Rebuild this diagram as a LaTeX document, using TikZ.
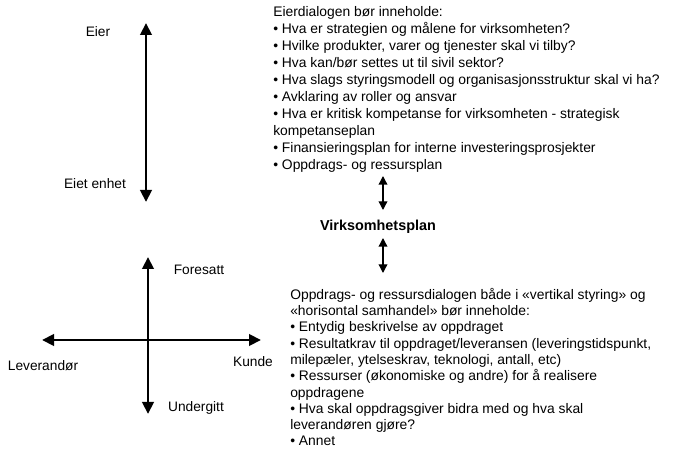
\documentclass[tikz,border=0pt]{standalone}
\usepackage{fontspec}
\setmainfont{Liberation Sans}
\usetikzlibrary{arrows.meta}
\tikzset{
  bigarrow/.style={line width=2.2pt, {Triangle[length=9pt,width=8.5pt]}-{Triangle[length=9pt,width=8.5pt]}},
  smallarrow/.style={line width=1pt, {Triangle[length=6.5pt,width=6.5pt]}-{Triangle[length=6.5pt,width=6.5pt]}},
  axislabel/.style={inner sep=0pt, font=\fontsize{10.3pt}{12pt}\selectfont},
  listtext/.style={anchor=north west, inner sep=0pt, align=left},
}
\begin{document}
\begin{tikzpicture}[x=0.75pt, y=-0.75pt]%
\useasboundingbox (0,0) rectangle (679,463);%
% eier-aksen
\coordinate (eiertop) at (146,23);%
\coordinate (eierbot) at (146,202);%
\draw[bigarrow] (eiertop) -- (eierbot);%
\node[axislabel] (eier) at (98,32) {Eier};%
\node[axislabel] (eietenhet) at (95,184) {Eiet enhet};%
% kryss
\coordinate (foresatttop) at (148,257);%
\coordinate (undergittbot) at (148,414);%
\coordinate (levleft) at (42,340);%
\coordinate (kunderight) at (261,340);%
\draw[bigarrow] (foresatttop) -- (undergittbot);%
\draw[bigarrow] (levleft) -- (kunderight);%
\node[axislabel] (foresatt) at (199,270) {Foresatt};%
\node[axislabel] (kunde) at (253,362) {Kunde};%
\node[axislabel] (leverandor) at (43,366) {Leverandør};%
\node[axislabel] (undergitt) at (196,408) {Undergitt};%
% eierdialog
\node[listtext, font=\fontsize{10.4pt}{12.75pt}\selectfont] (eierdialog) at (273,6) {Eierdialogen bør inneholde:\\
• Hva er strategien og målene for virksomheten?\\
• Hvilke produkter, varer og tjenester skal vi tilby?\\
• Hva kan/bør settes ut til sivil sektor?\\
• Hva slags styringsmodell og organisasjonsstruktur skal vi ha?\\
• Avklaring av roller og ansvar\\
• Hva er kritisk kompetanse for virksomheten - strategisk\\
kompetanseplan\\
• Finansieringsplan for interne investeringsprosjekter\\
• Oppdrags- og ressursplan};%
% virksomhetsplan
\node[axislabel, font=\fontsize{10.8pt}{12pt}\selectfont\bfseries] (plan) at (378,227) {Virksomhetsplan};%
\coordinate (pil1top) at (383,176);%
\coordinate (pil1bot) at (383,210);%
\coordinate (pil2top) at (383,238);%
\coordinate (pil2bot) at (383,273);%
\draw[smallarrow] (pil1top) -- (pil1bot);%
\draw[smallarrow] (pil2top) -- (pil2bot);%
% oppdragsdialog
\node[listtext, font=\fontsize{10.4pt}{12.2pt}\selectfont] (oppdragsdialog) at (290,288) {Oppdrags- og ressursdialogen både i «vertikal styring» og\\
«horisontal samhandel» bør inneholde:\\
• Entydig beskrivelse av oppdraget\\
• Resultatkrav til oppdraget/leveransen (leveringstidspunkt,\\
milepæler, ytelseskrav, teknologi, antall, etc)\\
• Ressurser (økonomiske og andre) for å realisere\\
oppdragene\\
• Hva skal oppdragsgiver bidra med og hva skal\\
leverandøren gjøre?\\
• Annet};%
\end{tikzpicture}
\end{document}
